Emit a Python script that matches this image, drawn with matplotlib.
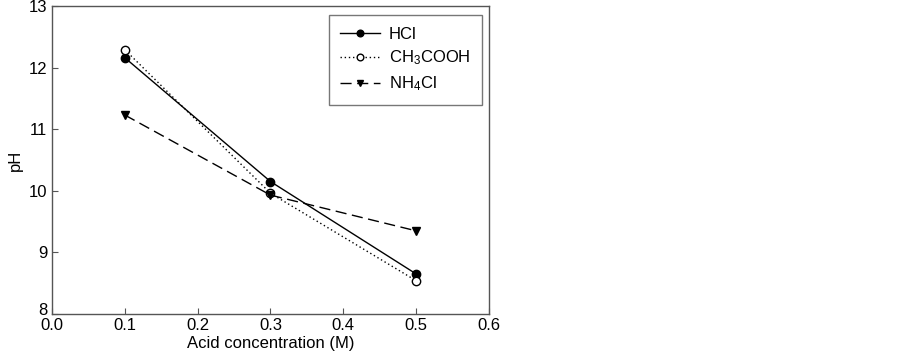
import matplotlib
matplotlib.use('Agg')
import matplotlib.pyplot as plt
import matplotlib.transforms as mtransforms

plt.rcParams['font.family'] = ['Liberation Sans', 'DejaVu Sans']
plt.rcParams['mathtext.default'] = 'regular'

conc = [0.1, 0.3, 0.5]
ph_hcl = [12.16, 10.15, 8.65]
ph_acetic = [12.29, 9.96, 8.54]
ph_nh4cl = [11.23, 9.93, 9.35]

x_ticks = [0.0, 0.1, 0.2, 0.3, 0.4, 0.5, 0.6]
y_ticks = [8, 9, 10, 11, 12, 13]

fig = plt.figure(figsize=(9.03, 3.61), dpi=100)
ax = fig.add_axes([52/903, 1 - 314/361, 437/903, 308/361])

ax.plot(conc, ph_hcl, color='black', linestyle='-', linewidth=1,
        marker='o', markersize=6, markerfacecolor='black', label='HCl')
ax.plot(conc, ph_acetic, color='black', linestyle=(0, (1, 2)), linewidth=1,
        marker='o', markersize=6, markerfacecolor='white', label='CH$_3$COOH')
ax.plot(conc, ph_nh4cl, color='black', linestyle=(0, (8, 4)), linewidth=1,
        marker='v', markersize=6, markerfacecolor='black', label='NH$_4$Cl')

ax.set_xlim(0, 0.6)
ax.set_ylim(8, 13)
ax.set_xticks(x_ticks)
ax.set_yticks(y_ticks)
ax.set_xticklabels(['%.1f' % v for v in x_ticks])
ax.tick_params(direction='in', labelsize=12, length=4, width=0.8, color='#555555')
ax.tick_params(axis='x', pad=3)
for s in ax.spines.values():
    s.set_color('#555555')
    s.set_linewidth(1)

# lift the bottom y label a little, as in the source
lbl = ax.get_yticklabels()[0]
lbl.set_transform(lbl.get_transform() + mtransforms.ScaledTranslation(0, 5/100, fig.dpi_scale_trans))

ax.set_xlabel('Acid concentration (M)', fontsize=12, labelpad=2)
ax.set_ylabel('pH', fontsize=12, labelpad=4)

leg = ax.legend(loc='upper right', bbox_to_anchor=(430/437, 1 - 9/308),
                fontsize=12, fancybox=False, edgecolor='#555555',
                handlelength=2.4, borderpad=0.7, labelspacing=0.42,
                handletextpad=0.5, borderaxespad=0, markerscale=0.8)
leg.get_frame().set_linewidth(1)

fig.savefig('out.png', dpi=100)
